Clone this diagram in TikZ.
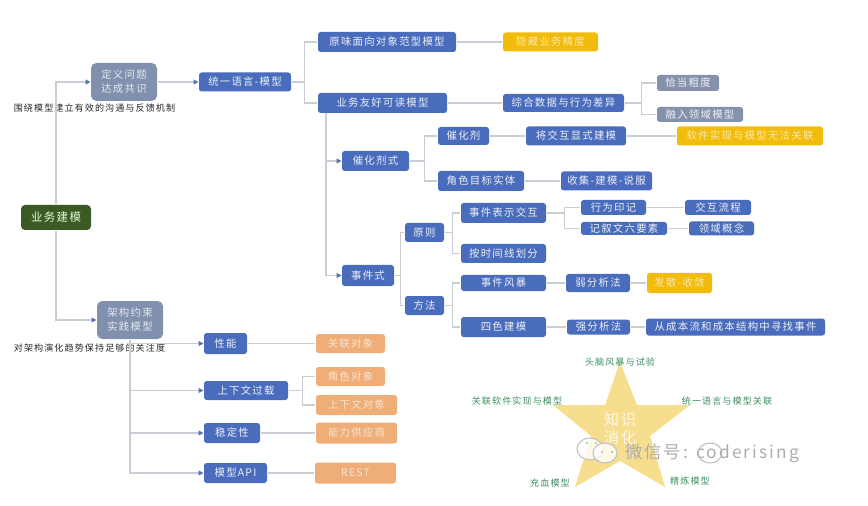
\documentclass[tikz,border=0pt]{standalone}
\usepackage{fontspec}
\setmainfont[LetterSpace=12]{Noto Sans CJK SC}
\usetikzlibrary{arrows.meta}
\definecolor{topicblue}{HTML}{4A6CBC}
\definecolor{goalgrey}{HTML}{8190AE}
\definecolor{notegrey}{HTML}{8692AC}
\definecolor{warnyellow}{HTML}{F2BC0C}
\definecolor{peachfill}{HTML}{EFAE78}
\definecolor{rootgreen}{HTML}{3C5A24}
\definecolor{starfill}{HTML}{F7DE8E}
\definecolor{linegrey}{HTML}{CACDD6}
\definecolor{hintgreen}{HTML}{3D8F63}
\tikzset{
	every path/.style={line width=0.8pt},
	wh/.style 2 args={
		minimum width=#1*0.75pt,
		minimum height=#2*0.75pt,
	},
	box/.style={
		rectangle,
		rounded corners=2pt,
		inner sep=0pt,
		align=center,
		font=\fontsize{7.8}{10.5}\selectfont,
	},
	topic/.style={
		box,
		fill=topicblue,
		text=white!90!topicblue,
	},
	goal/.style={
		box,
		rounded corners=4pt,
		fill=goalgrey,
		text=white!80!goalgrey,
	},
	note/.style={
		box,
		fill=notegrey,
		text=white!85!notegrey,
	},
	warn/.style={
		box,
		fill=warnyellow,
		text=white!65!warnyellow,
	},
	peach/.style={
		box,
		fill=peachfill,
		text=white!65!peachfill,
	},
	root/.style={
		box,
		rounded corners=3pt,
		fill=rootgreen,
		text=green!15!white,
		font=\fontsize{8.6}{11}\selectfont,
	},
	aside/.style={
		inner sep=0pt,
		text=black!85,
		font=\fontsize{6.8}{8}\selectfont,
	},
	hint/.style={
		inner sep=0pt,
		text=hintgreen,
		font=\fontsize{6.8}{8}\selectfont,
	},
	link/.style={
		draw=linegrey,
	},
	flow/.style={
		draw=linegrey,
		-{Triangle[length=3.6pt,width=3.6pt,color=topicblue!75!gray]},
	},
	bubble/.style={
		draw=black!25,
		fill=white,
		fill opacity=0.8,
	},
}

\begin{document}
\begin{tikzpicture}[x=0.75pt,y=-0.75pt]
	\useasboundingbox (0,0) rectangle (868,506);

	\coordinate (trunk) at (326,113);

	% star
	\fill[starfill] (620,362) -- (637,405) -- (690,405) -- (650,436) -- (665,487) -- (620,461)
		-- (575,487) -- (591,436) -- (553,405) -- (605,405) -- cycle;
	\node[inner sep=0pt,text=white!80!starfill,align=center,font=\fontsize{11.5}{13.5}\selectfont] (digest) at (620,429) {知识\\消化};

	\node[hint] (storm) at (620,362) {头脑风暴与试验};
	\node[hint] (relate) at (517,401) {关联软件实现与模型};
	\node[hint] (unify) at (727,401) {统一语言与模型关联};
	\node[hint] (rich) at (550,483) {充血模型};
	\node[hint] (refine) at (690,481) {精炼模型};

	% left side
	\node[root,wh={70}{25}]   (model) at (56,217.5) {业务建模};
	\node[goal,wh={66}{38}]   (define) at (124,82) {定义问题\\达成共识};
	\node[goal,wh={66}{38}]   (arch) at (130,320) {架构约束\\实践模型};
	\node[aside]              (loop) at (94.5,108) {围绕模型建立有效的沟通与反馈机制};
	\node[aside]              (trend) at (89.5,348) {对架构演化趋势保持足够的关注度};

	% upper branch
	\node[topic,wh={92}{19}]  (lang) at (245,82) {统一语言-模型};
	\node[topic,wh={138}{20}] (plain) at (387,42) {原味面向对象范型模型};
	\node[warn,wh={95}{19}]   (hide) at (550.5,42) {隐藏业务精度};
	\node[topic,wh={129}{20}] (read) at (382.5,103) {业务友好可读模型};
	\node[topic,wh={121}{18}] (mix) at (563.5,103) {综合数据与行为差异};
	\node[note,wh={62}{16}]   (grain) at (688,83) {恰当粗度};
	\node[note,wh={86}{15}]   (merge) at (700,114.5) {融入领域模型};

	\node[topic,wh={67}{20}]  (catform) at (375.5,161) {催化剂式};
	\node[topic,wh={51}{18}]  (cat) at (463.5,136) {催化剂};
	\node[topic,wh={100}{19}] (explicit) at (576,136) {将交互显式建模};
	\node[warn,wh={146}{19}]  (nolink) at (750,136) {软件实现与模型无法关联};
	\node[topic,wh={86}{20}]  (role) at (481,181) {角色目标实体};
	\node[topic,wh={91}{19}]  (collect) at (606.5,181) {收集-建模-说服};

	\node[topic,wh={52}{21}]  (event) at (368,275.5) {事件式};
	\node[topic,wh={39}{19}]  (rule) at (424.5,232.5) {原则};
	\node[topic,wh={85}{20}]  (show) at (503.5,213) {事件表示交互};
	\node[topic,wh={65}{15}]  (trace) at (613.5,207.5) {行为印记};
	\node[topic,wh={66}{15}]  (inter) at (718,207.5) {交互流程};
	\node[topic,wh={86}{13}]  (story) at (624,228.5) {记叙文六要素};
	\node[topic,wh={65}{14}]  (concept) at (721.5,228.5) {领域概念};
	\node[topic,wh={85}{19}]  (time) at (503.5,253.5) {按时间线划分};
	\node[topic,wh={39}{19}]  (way) at (424.5,305.5) {方法};
	\node[topic,wh={85}{16}]  (storming) at (503.5,283) {事件风暴};
	\node[topic,wh={64}{18}]  (weak) at (598,283) {弱分析法};
	\node[warn,wh={65}{20}]   (conv) at (679.5,283) {发散-收敛};
	\node[topic,wh={85}{20}]  (fourcolor) at (503.5,327) {四色建模};
	\node[topic,wh={63}{15}]  (strong) at (598.5,327) {强分析法};
	\node[topic,wh={179}{17}] (cost) at (735.5,327) {从成本流和成本结构中寻找事件};

	% lower branch
	\node[topic,wh={43}{21}]  (perf) at (225.5,343.5) {性能};
	\node[peach,wh={69}{19}]  (assoc) at (350.5,343.5) {关联对象};
	\node[topic,wh={84}{19}]  (ctx) at (246,390.5) {上下文过载};
	\node[peach,wh={69}{19}]  (actor) at (350.5,376.5) {角色对象};
	\node[peach,wh={81}{20}]  (ctxobj) at (356.5,405) {上下文对象};
	\node[topic,wh={56}{20}]  (stable) at (232,433) {稳定性};
	\node[peach,wh={81}{21}]  (vendor) at (356.5,433) {能力供应商};
	\node[topic,wh={63}{20}]  (api) at (235.5,473) {模型API};
	\node[peach,wh={81}{21}]  (rest) at (355.5,473) {REST};

	\draw[flow] (model) |- (define);
	\draw[flow] (model) |- (arch);
	\draw[flow] (define) -- (lang);
	\draw[link] (lang.east) -- ++(13,0) |- (plain.west);
	\draw[link] (lang.east) -- ++(13,0) |- (read.west);
	\draw[link] (plain) -- (hide);
	\draw[link] (read) -- (mix);
	\draw[link] (mix.east) -- ++(17,0) |- (grain.west);
	\draw[link] (mix.east) -- ++(17,0) |- (merge.west);

	\draw[flow] (trunk) |- (catform);
	\draw[flow] (trunk) |- (event);
	\draw[link] (catform.east) -- ++(15,0) |- (cat.west);
	\draw[link] (catform.east) -- ++(15,0) |- (role.west);
	\draw[link] (cat) -- (explicit);
	\draw[link] (explicit) -- (nolink);
	\draw[link] (role) -- (collect);

	\draw[link] (event.east) -- ++(6,0) |- (rule.west);
	\draw[link] (event.east) -- ++(6,0) |- (way.west);
	\draw[link] (rule.east) -- ++(8,0) |- (show.west);
	\draw[link] (rule.east) -- ++(8,0) |- (time.west);
	\draw[link] (way.east) -- ++(8,0) |- (storming.west);
	\draw[link] (way.east) -- ++(8,0) |- (fourcolor.west);
	\draw[link] (show.east) -- ++(18,0) |- (trace.west);
	\draw[link] (show.east) -- ++(18,0) |- (story.west);
	\draw[link] (trace) -- (inter);
	\draw[link] (story) -- (concept);
	\draw[link] (storming) -- (weak);
	\draw[link] (weak) -- (conv);
	\draw[link] (fourcolor) -- (strong);
	\draw[link] (strong) -- (cost);

	\draw[flow] (arch) |- (perf);
	\draw[flow] (arch) |- (ctx);
	\draw[flow] (arch) |- (stable);
	\draw[flow] (arch) |- (api);
	\draw[link] (perf) -- (assoc);
	\draw[link] (ctx.east) -- ++(14,0) |- (actor.west);
	\draw[link] (ctx.east) -- ++(14,0) |- (ctxobj.west);
	\draw[link] (stable) -- (vendor);
	\draw[link] (api) -- (rest);

	% watermark
	\draw[bubble] (590,449) ellipse (13 and 11);
	\draw[bubble] (605,453) ellipse (12 and 10);
	\draw[bubble,fill opacity=0.5] (710,453) ellipse (12 and 10);
	\fill[black!30] (587,443) circle (1.2) (596,443) circle (1.2) (602,452) circle (1.2) (612,452) circle (1.2);
	\node[inner sep=0pt,text=black!32,font=\fontsize{13}{15}\selectfont] (mark) at (712,453) {微信号: coderising};
\end{tikzpicture}
\end{document}
